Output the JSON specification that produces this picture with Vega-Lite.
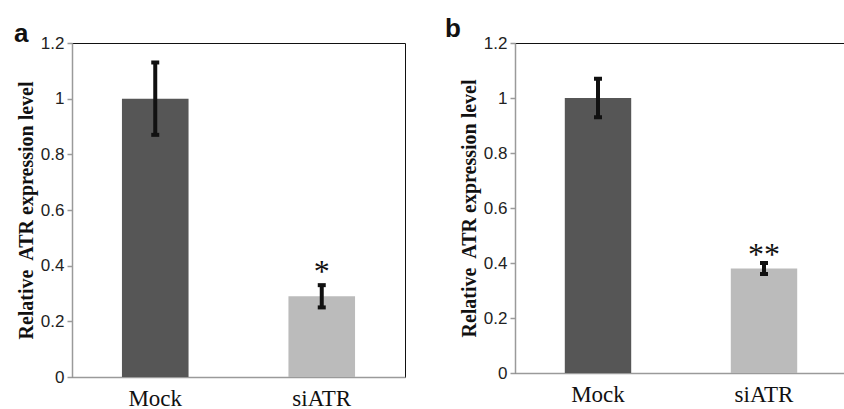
{
  "$schema": "https://vega.github.io/schema/vega-lite/v6.json",
  "padding": {"left": 13, "top": 15, "right": 0, "bottom": 0},
  "spacing": 38,
  "config": {
    "view": {"stroke": "#111", "strokeWidth": 1},
    "axisY": {"domainColor": "#9a9a9a", "domainWidth": 1.5, "tickColor": "#9a9a9a", "tickWidth": 1.5, "tickSize": 5, "grid": false, "labelFont": "Liberation Sans", "labelFontSize": 17, "labelColor": "#222", "titleFont": "Liberation Serif", "titleFontSize": 20, "titleFontWeight": "bold", "titleColor": "#111", "labelPadding": 3, "titlePadding": 4},
    "axisX": {"domainColor": "#9a9a9a", "domainWidth": 1.5, "ticks": false, "labelFont": "Liberation Serif", "labelFontSize": 23, "labelColor": "#111", "labelAngle": 0, "title": null, "labelPadding": 10},
    "title": {"anchor": "start", "frame": "group", "fontSize": 26, "font": "Liberation Sans", "fontWeight": "bold", "color": "#111", "offset": 0, "baseline": "bottom"}
  },
  "hconcat": [
    {
      "width": 333,
      "height": 334,
      "title": {"text": "a", "dx": -58, "dy": 17},
      "data": {"values": [
        {"group": "Mock", "value": 1.0, "lo": 0.87, "hi": 1.13, "sig": "", "sigY": 0},
        {"group": "siATR", "value": 0.29, "lo": 0.25, "hi": 0.33, "sig": "*", "sigY": 0.40}
      ]},
      "encoding": {
        "x": {"field": "group", "type": "nominal", "scale": {"paddingInner": 0.6, "paddingOuter": 0.3}, "axis": {"title": null}}
      },
      "layer": [
        {"mark": {"type": "bar"}, "encoding": {
          "y": {"field": "value", "type": "quantitative", "scale": {"domain": [0, 1.2], "nice": false}, "axis": {"title": "Relative\u00a0 ATR expression level", "values": [0, 0.2, 0.4, 0.6, 0.8, 1, 1.2], "labelExpr": "format(datum.value, '~g')"}},
          "color": {"field": "group", "type": "nominal", "scale": {"range": ["#565656", "#bbbbbb"]}, "legend": null}
        }},
        {"mark": {"type": "rule", "strokeWidth": 4, "color": "#111"}, "encoding": {"y": {"field": "lo", "type": "quantitative"}, "y2": {"field": "hi"}}},
        {"mark": {"type": "tick", "thickness": 4, "size": 8, "color": "#111", "opacity": 1}, "encoding": {"y": {"field": "lo", "type": "quantitative"}}},
        {"mark": {"type": "tick", "thickness": 4, "size": 8, "color": "#111", "opacity": 1}, "encoding": {"y": {"field": "hi", "type": "quantitative"}}},
        {"transform": [{"filter": "datum.sig != ''"}], "mark": {"type": "text", "font": "Liberation Serif", "fontSize": 32, "baseline": "middle", "dy": 6, "color": "#111"}, "encoding": {"y": {"field": "sigY", "type": "quantitative"}, "text": {"field": "sig"}}}
      ]
    },
    {
      "width": 332,
      "height": 330,
      "title": {"text": "b", "dx": -70, "dy": 12},
      "data": {"values": [
        {"group": "Mock", "value": 1.0, "lo": 0.93, "hi": 1.07, "sig": "", "sigY": 0},
        {"group": "siATR", "value": 0.38, "lo": 0.36, "hi": 0.40, "sig": "**", "sigY": 0.45}
      ]},
      "encoding": {
        "x": {"field": "group", "type": "nominal", "scale": {"paddingInner": 0.6, "paddingOuter": 0.3}, "axis": {"title": null}}
      },
      "layer": [
        {"mark": {"type": "bar"}, "encoding": {
          "y": {"field": "value", "type": "quantitative", "scale": {"domain": [0, 1.2], "nice": false}, "axis": {"title": "Relative\u00a0 ATR expression level", "values": [0, 0.2, 0.4, 0.6, 0.8, 1, 1.2], "labelExpr": "format(datum.value, '~g')"}},
          "color": {"field": "group", "type": "nominal", "scale": {"range": ["#565656", "#bbbbbb"]}, "legend": null}
        }},
        {"mark": {"type": "rule", "strokeWidth": 4, "color": "#111"}, "encoding": {"y": {"field": "lo", "type": "quantitative"}, "y2": {"field": "hi"}}},
        {"mark": {"type": "tick", "thickness": 4, "size": 8, "color": "#111", "opacity": 1}, "encoding": {"y": {"field": "lo", "type": "quantitative"}}},
        {"mark": {"type": "tick", "thickness": 4, "size": 8, "color": "#111", "opacity": 1}, "encoding": {"y": {"field": "hi", "type": "quantitative"}}},
        {"transform": [{"filter": "datum.sig != ''"}], "mark": {"type": "text", "font": "Liberation Serif", "fontSize": 32, "baseline": "middle", "dy": 6, "color": "#111"}, "encoding": {"y": {"field": "sigY", "type": "quantitative"}, "text": {"field": "sig"}}}
      ]
    }
  ]
}
